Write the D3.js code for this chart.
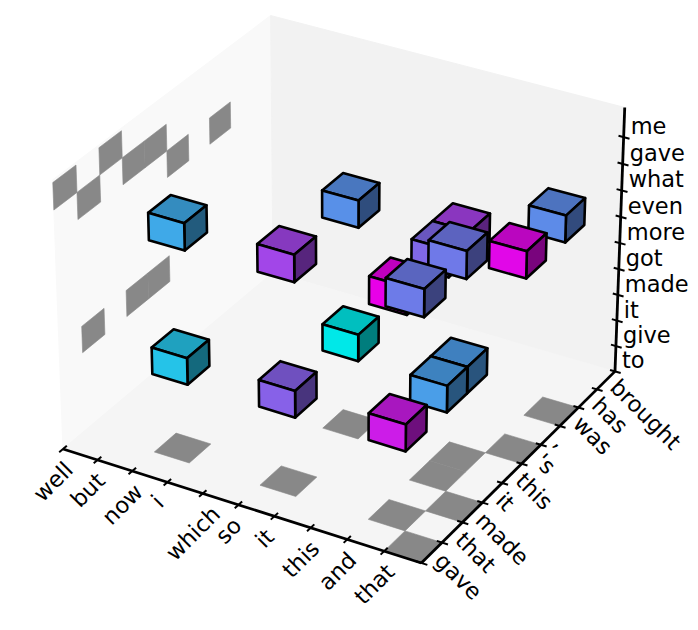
<!DOCTYPE html>
<html>
<head>
<meta charset="utf-8">
<script src="https://d3js.org/d3.v7.min.js"></script>
<style>
body { margin: 0; background: #fff; }
text { font-family: "DejaVu Sans"; font-size: 22.5px; fill: #000; }
</style>
</head>
<body>
<div id="chart-area"></div>
<script>
var xLabels = ["well", "but", "now", "i", "which", "so", "it", "this", "and", "that"]
var yLabels = ["gave", "that", "made", "it", "this", "'s", ",", "was", "has", "brought"]
var zLabels = ["to", "give", "it", "made", "got", "more", "even", "what", "gave", "me"]

// cubes: index on each axis + value on the cool colormap
var cubeX = [2, 2, 5, 5, 8, 8, 5, 5, 8, 8, 8, 8, 9, 9, 9, 9]
var cubeY = [1, 1, 1, 1, 1, 1, 4, 4, 3, 4, 3, 4, 0, 2, 5, 7]
var cubeZ = [3, 8, 3, 8, 3, 8, 3, 8, 3, 3, 8, 8, 9, 9, 7, 7]
var cubeVal = [0.16, 0.27, 0.58, 0.70, 0.88, 1.0, 0.0, 0.38, 0.32, 0.33, 0.55, 0.72, 0.47, 0.48, 0.97, 0.40]

// grey shadows on the floor (x, y) and the left wall (y, z)
var floorX = [2, 5, 5, 8, 9, 9, 8, 8, 9, 9]
var floorY = [1, 1, 4, 1, 0, 2, 3, 4, 5, 7]
var wallY = [0, 1, 2, 3, 4, 5, 7, 3, 4, 1]
var wallZ = [9, 8, 9, 8, 8, 7, 7, 3, 3, 3]

var width = 698, height = 630
var zMax = 10.1

var svg = d3.select("#chart-area").append("svg")
	.attr("width", width)
	.attr("height", height)
	.style("display", "block")

// box coordinates, same proportions as mplot3d (4:4:3)
var bx = d3.scaleLinear().domain([0, 10]).range([-0.5714, 0.5714])
var by = d3.scaleLinear().domain([0, 10]).range([-0.5714, 0.5714])
var bz = d3.scaleLinear().domain([0, zMax]).range([-0.4286, 0.4286])

// elev 30, azim -60
var dist = 12
var U = [0.866, 0.5, 0], V = [-0.25, 0.433, 0.866], N = [0.433, -0.75, 0.5]
var dot = (a, b) => a[0] * b[0] + a[1] * b[1] + a[2] * b[2]

var sx = d3.scaleLinear().domain([-0.06487, 0.06297]).range([63, 615])
var sy = d3.scaleLinear().domain([-0.03953, 0.06111]).range([449, 15.5])

function depth(x, y, z) {
	return dist - dot(N, [bx(x), by(y), bz(z)])
}
function pt(x, y, z) {
	var p = [bx(x), by(y), bz(z)]
	var d = dist - dot(N, p)
	return [sx(dot(U, p) / d), sy(dot(V, p) / d)]
}
var line = d3.line()
function poly0(pts) { return line(pts.map(p => pt(p[0], p[1], p[2]))) }
var poly = pts => poly0(pts) + "Z"

// panes
var panes = [
	{ c: "#f9f9f9", p: [[0, 0, 0], [0, 10, 0], [0, 10, zMax], [0, 0, zMax]] },
	{ c: "#f2f2f2", p: [[0, 10, 0], [10, 10, 0], [10, 10, zMax], [0, 10, zMax]] },
	{ c: "#f5f5f5", p: [[0, 0, 0], [10, 0, 0], [10, 10, 0], [0, 10, 0]] }
]
svg.append("g").selectAll("path").data(panes).enter().append("path")
	.attr("d", d => poly(d.p))
	.attr("fill", d => d.c)
	.attr("stroke", d => d.c)

// shadows
var grey = "#888888"
svg.append("g").selectAll("path").data(floorX).enter().append("path")
	.attr("d", (d, i) => { var y = floorY[i]; return poly([[d, y, 0], [d + 1, y, 0], [d + 1, y + 1, 0], [d, y + 1, 0]]) })
	.attr("fill", grey)
	.attr("stroke", grey)
	.attr("stroke-width", 0.6)
svg.append("g").selectAll("path").data(wallY).enter().append("path")
	.attr("d", (d, i) => { var z = wallZ[i]; return poly([[0, d, z], [0, d + 1, z], [0, d + 1, z + 1], [0, d, z + 1]]) })
	.attr("fill", grey)
	.attr("stroke", grey)
	.attr("stroke-width", 0.6)

// axes lines
var axisG = svg.append("g").attr("stroke", "#000").attr("fill", "none")
axisG.append("path").attr("stroke-width", 2.8).attr("d", poly0([[0, 0, 0], [10, 0, 0]]))
axisG.append("path").attr("stroke-width", 2.8).attr("d", poly0([[10, 0, 0], [10, 10, 0]]))
axisG.append("path").attr("stroke-width", 2.8).attr("d", poly0([[10, 10, 0], [10, 10, zMax]]))

var ticks = [0, 1, 2, 3, 4, 5, 6, 7, 8, 9]
ticks.forEach(i => {
	axisG.append("path").attr("stroke-width", 2).attr("d", poly0([[i, -0.17, 0], [i, 0.17, 0]]))
	axisG.append("path").attr("stroke-width", 2).attr("d", poly0([[9.86, i, 0], [10.16, i, 0]]))
	axisG.append("path").attr("stroke-width", 2).attr("d", poly0([[9.86, 10, i], [10.16, 10, i]]))
})

// tick labels
var textH = 16
xLabels.forEach((s, i) => {
	var t = pt(i, 0, 0)
	var label = svg.append("text").attr("text-anchor", "middle").attr("dominant-baseline", "central").text(s)
	var box = (label.node().getComputedTextLength() + textH) / Math.SQRT2
	var cx = t[0] - 10, cy = t[1] + 11 + box / 2
	label.attr("transform", "translate(" + cx + "," + cy + ") rotate(-45)")
})
yLabels.forEach((s, i) => {
	var t = pt(10, i, 0)
	var label = svg.append("text").attr("text-anchor", "middle").attr("dominant-baseline", "central").text(s)
	var box = (label.node().getComputedTextLength() + textH) / Math.SQRT2
	var cx = t[0] + 12 + box / 2, cy = t[1] - 12 + box / 2
	label.attr("transform", "translate(" + cx + "," + cy + ") rotate(45)")
})
zLabels.forEach((s, i) => {
	var t = pt(10, 10, i)
	svg.append("text").attr("x", t[0] + 7).attr("y", t[1] - 11).attr("dominant-baseline", "central").text(s)
})

// cubes, far ones first
var cubes = cubeX.map((x, i) => ({ x: x, y: cubeY[i], z: cubeZ[i], v: cubeVal[i] }))
cubes.sort((a, b) => depth(b.x + .5, b.y + .5, b.z + .5) - depth(a.x + .5, a.y + .5, a.z + .5))

function shade(v, k) {
	return d3.rgb(255 * v * k, 255 * (1 - v) * k, 255 * k).formatHex()
}
cubes.forEach(c => {
	var x = c.x, y = c.y, z = c.z
	var faces = [
		{ k: 0.75, p: [[x, y, z + 1], [x + 1, y, z + 1], [x + 1, y + 1, z + 1], [x, y + 1, z + 1]] },
		{ k: 0.49, p: [[x + 1, y, z], [x + 1, y + 1, z], [x + 1, y + 1, z + 1], [x + 1, y, z + 1]] },
		{ k: 0.91, p: [[x, y, z], [x + 1, y, z], [x + 1, y, z + 1], [x, y, z + 1]] }
	]
	svg.append("g").selectAll("path").data(faces).enter().append("path")
		.attr("d", d => poly(d.p))
		.attr("fill", d => shade(c.v, d.k))
		.attr("stroke", "#000")
		.attr("stroke-width", 2.6)
		.attr("stroke-linejoin", "round")
})
</script>
</body>
</html>
